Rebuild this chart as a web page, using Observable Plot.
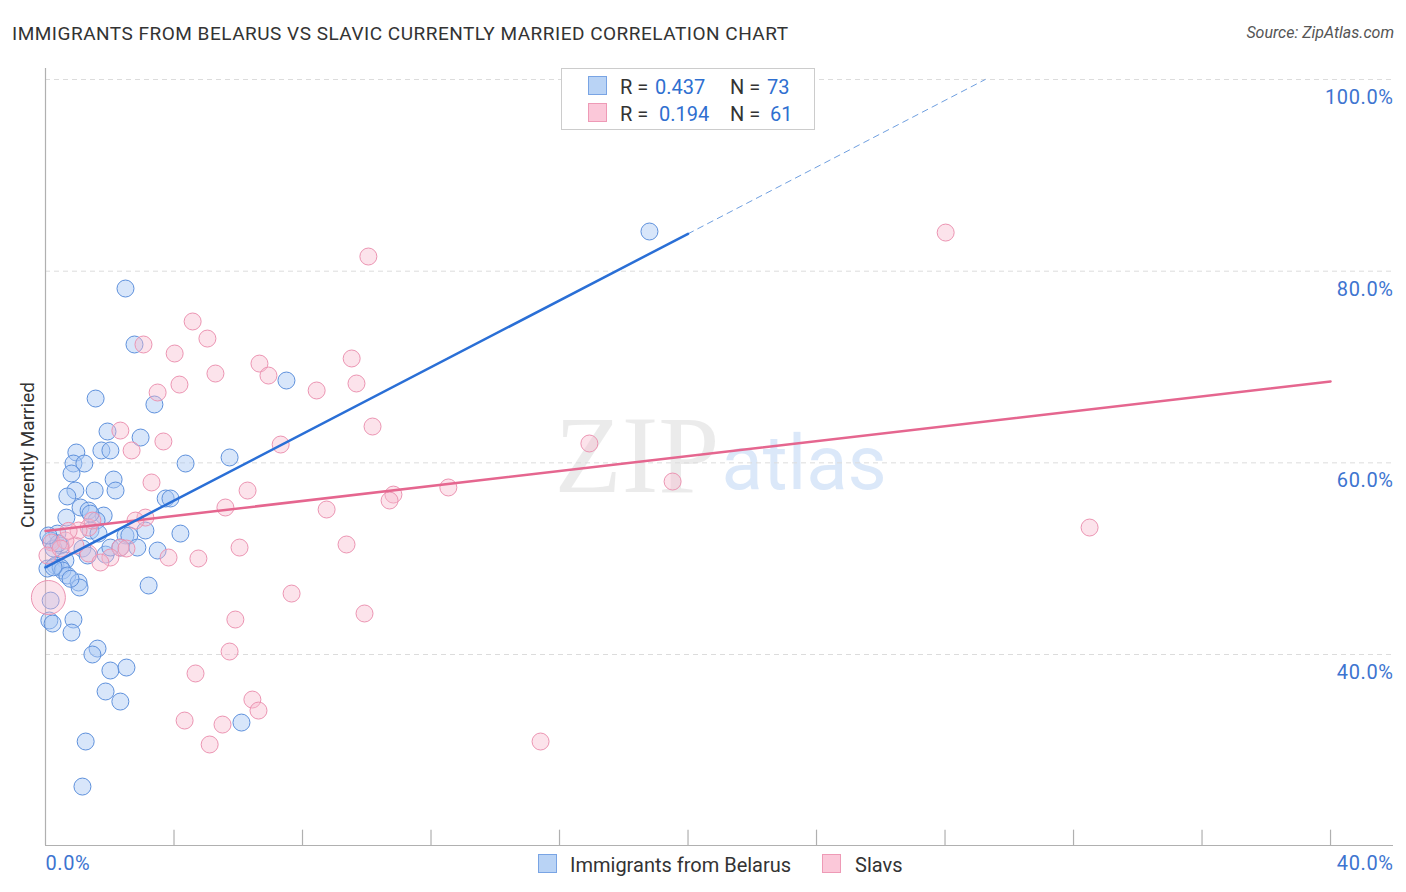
<!DOCTYPE html>
<html><head><meta charset="utf-8">
<script src="https://cdn.jsdelivr.net/npm/d3@7"></script>
<script src="https://cdn.jsdelivr.net/npm/@observablehq/plot@0.6"></script>
<style>
body{margin:0;background:#fff;font-family:Roboto,"Open Sans",sans-serif;}
#wrap{position:relative;width:1406px;height:892px;overflow:hidden;background:#fff}
#wrap svg{position:absolute;left:0;top:0}
.abs{position:absolute;white-space:nowrap;line-height:1}
.title{left:12px;top:24px;font-size:19px;color:#333;letter-spacing:0.5px}
.source{right:12px;top:25px;font-size:16px;color:#555;font-style:italic}
.ylab{left:27px;top:455px;font-size:19px;color:#333;transform:translate(-50%,-50%) rotate(-90deg)}
.lbox{left:561px;top:68px;width:252px;height:60px;border:1px solid #ccc;background:#fff}
.sq{width:19px;height:19px;box-sizing:border-box}
.sqb{background:#b9d3f5;border:1px solid #79a4e4}
.sqp{background:#fbc8d9;border:1px solid #ee9ab6}
.lt{font-size:20px;color:#333}
.lv{font-size:20px;color:#2f6fd0}
.bl{font-size:20px;color:#333}
</style></head><body><div id="wrap"></div>
<script>
// Immigrants from Belarus (x: %, y: % currently married)
const belarusX = [18.80,2.49,2.77,7.50,3.39,1.56,1.93,2.96,0.96,1.74,2.02,0.87,1.21,4.36,5.73,0.81,2.12,2.18,1.53,0.93,0.68,3.74,3.89,1.09,1.34,0.65,1.81,1.59,3.11,4.20,0.37,2.49,2.61,1.40,1.65,0.16,0.47,0.25,1.15,2.86,3.49,1.87,2.02,2.33,1.31,0.62,0.31,0.06,0.47,0.53,0.68,1.03,1.06,3.21,0.16,0.12,0.22,0.87,0.81,1.62,1.46,2.02,2.52,1.87,2.33,6.10,1.25,1.15,0.25,0.40,0.78,0.09,1.40];
const belarusY = [84.14,78.19,72.35,68.59,66.09,66.71,63.27,62.64,61.08,61.29,61.29,59.93,59.93,59.93,60.56,58.89,58.26,57.11,57.11,57.11,56.49,56.28,56.28,55.34,55.02,54.29,54.50,53.98,52.94,52.62,52.62,52.42,52.42,52.94,52.62,51.89,51.37,51.06,51.06,51.16,50.85,50.43,51.16,51.16,50.33,49.81,49.29,48.97,49.08,48.76,48.24,47.51,46.99,47.20,45.63,43.55,43.23,43.65,42.29,40.62,40.00,38.33,38.64,36.14,35.09,32.90,30.92,26.22,49.10,51.60,47.90,52.42,54.70];
// Slavs
const slavsX = [28.02,10.05,4.58,5.04,3.05,4.02,9.53,6.66,6.94,5.29,9.68,4.17,3.49,8.44,10.18,2.33,3.67,7.32,16.93,2.68,3.30,19.52,12.54,6.29,10.83,10.71,5.60,8.75,3.11,2.80,32.50,1.34,9.37,6.04,2.33,2.52,3.83,4.76,2.02,1.34,0.93,0.19,7.66,0.09,9.93,5.91,5.73,4.67,6.44,6.63,4.33,5.51,5.11,15.41,0.62,1.03,1.46,0.06,0.47,0.72,1.71];
const slavsY = [84.03,81.53,74.75,72.97,72.35,71.41,70.89,70.36,69.11,69.32,68.28,68.17,67.34,67.55,63.79,63.37,62.23,61.91,62.02,61.29,57.95,58.05,57.43,57.11,56.69,56.07,55.34,55.13,54.29,53.98,53.25,53.25,51.48,51.16,51.16,51.06,50.12,50.02,50.12,50.54,51.37,51.69,46.36,45.95,44.28,43.65,40.31,38.02,35.30,34.15,33.11,32.69,30.61,30.92,51.90,52.94,53.98,50.33,51.06,52.90,49.60];
// relative population weight of each Slavs point (one large community near 0%)
const slavsWeight = slavsX.map((_, i) => i === 43 ? 4 : 1);

// Trend lines
const belarusTrendX = [0, 20.0];
const belarusTrendY = [49.1, 83.9];
const belarusExtX = [20.0, 29.25];
const belarusExtY = [83.9, 100.0];
const slavsTrendX = [0, 40];
const slavsTrendY = [52.9, 68.5];

const yTicks = [40, 60, 80, 100];
const xTicks = [4, 8, 12, 16, 20, 24, 28, 32, 36, 40];
const xTickLabels = ["0.0%", "40.0%"];
const yMin = 20.07, yMax = 101.15, xMax = 41.96;

const belarus = belarusX.map((x, i) => ({x, y: belarusY[i], w: 1}));
const slavs = slavsX.map((x, i) => ({x, y: slavsY[i], w: slavsWeight[i]}));
const pts = (xs, ys) => xs.map((x, i) => ({x, y: ys[i]}));

const tickFont = {fill: "#3d74d0", fontSize: 20, fontFamily: "Roboto, sans-serif"};

const plot = Plot.plot({
  width: 1406, height: 892,
  marginLeft: 45, marginRight: 13, marginTop: 68, marginBottom: 47,
  style: {background: "transparent", overflow: "visible"},
  x: {domain: [0, xMax], axis: null},
  y: {domain: [yMin, yMax], axis: null},
  r: {type: "sqrt", domain: [0, 4], range: [0, 17]},
  marks: [
    Plot.text(["ZIP"], {frameAnchor: "middle", text: d => d, textAnchor: "end", dx: 0, dy: 0,
      fontFamily: "Liberation Serif, DejaVu Serif, serif", fontSize: 110, fill: "#000", fillOpacity: 0.08}),
    Plot.text(["atlas"], {frameAnchor: "middle", text: d => d, textAnchor: "start", dx: 2, dy: 8,
      fontFamily: "Roboto, sans-serif", fontSize: 76, fill: "#4a8ae0", fillOpacity: 0.2}),
    Plot.ruleY(yTicks, {stroke: "#dcdcdc", strokeDasharray: "5,4"}),
    Plot.text(yTicks, {y: d => d, frameAnchor: "right", text: d => d.toFixed(1) + "%", textAnchor: "end",
      dy: 18, fill: tickFont.fill, fontSize: tickFont.fontSize, fontFamily: tickFont.fontFamily}),
    Plot.ruleX([0], {stroke: "#b0b0b0", strokeWidth: 1.2}),
    Plot.ruleY([yMin], {stroke: "#b0b0b0", strokeWidth: 1.2}),
    Plot.ruleX(xTicks, {y1: yMin, y2: yMin + 1.6, stroke: "#b0b0b0", strokeWidth: 1.2}),
    Plot.text([xTickLabels[0]], {frameAnchor: "bottom-left", text: d => d, textAnchor: "start", dy: 24,
      fill: tickFont.fill, fontSize: tickFont.fontSize, fontFamily: tickFont.fontFamily}),
    Plot.text([xTickLabels[1]], {frameAnchor: "bottom-right", text: d => d, textAnchor: "end", dy: 24,
      fill: tickFont.fill, fontSize: tickFont.fontSize, fontFamily: tickFont.fontFamily}),
    Plot.dot(belarus, {x: "x", y: "y", r: "w", fill: "#a9c8f3", fillOpacity: 0.45, stroke: "#5d90dc", strokeWidth: 1}),
    Plot.dot(slavs, {x: "x", y: "y", r: "w", fill: "#f7b9cd", fillOpacity: 0.4, stroke: "#ec94b2", strokeWidth: 1}),
    Plot.line(pts(belarusExtX, belarusExtY), {x: "x", y: "y", stroke: "#6f9fe0", strokeWidth: 1, strokeDasharray: "6,5"}),
    Plot.line(pts(slavsTrendX, slavsTrendY), {x: "x", y: "y", stroke: "#e5668f", strokeWidth: 2.5}),
    Plot.line(pts(belarusTrendX, belarusTrendY), {x: "x", y: "y", stroke: "#2a6fd6", strokeWidth: 2.5})
  ]
});

const wrap = document.getElementById("wrap");
wrap.appendChild(plot);
plot.querySelectorAll("text").forEach(t => {
  if (/%$/.test(t.textContent)) t.setAttribute("letter-spacing", "0.6");
});

const add = (cls, html, style) => {
  const d = document.createElement("div");
  d.className = "abs " + cls;
  d.innerHTML = html;
  if (style) Object.assign(d.style, style);
  wrap.appendChild(d);
  return d;
};
add("title", "IMMIGRANTS FROM BELARUS VS SLAVIC CURRENTLY MARRIED CORRELATION CHART");
add("source", "Source: ZipAtlas.com");
add("ylab", "Currently Married");
add("lbox", "");
add("sq sqb", "", {left: "588px", top: "76px"});
add("sq sqp", "", {left: "588px", top: "103px"});
add("lt", "R =", {left: "620px", top: "77px"});
add("lv", "0.437", {left: "655px", top: "77px"});
add("lt", "N =", {left: "730px", top: "77px"});
add("lv", "73", {left: "767px", top: "77px"});
add("lt", "R =", {left: "620px", top: "104px"});
add("lv", "0.194", {left: "659px", top: "104px"});
add("lt", "N =", {left: "730px", top: "104px"});
add("lv", "61", {left: "770px", top: "104px"});
add("sq sqb", "", {left: "538px", top: "854px"});
add("bl", "Immigrants from Belarus", {left: "570px", top: "855px"});
add("sq sqp", "", {left: "822px", top: "854px"});
add("bl", "Slavs", {left: "855px", top: "855px"});
</script></body></html>
